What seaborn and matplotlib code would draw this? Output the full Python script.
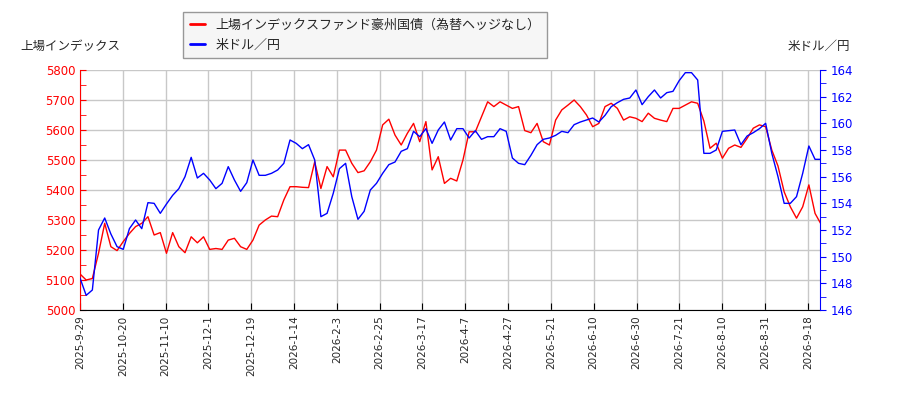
import numpy as np
import pandas as pd
import matplotlib
matplotlib.use("Agg")
import matplotlib.pyplot as plt
import seaborn as sns
from matplotlib.ticker import MultipleLocator

# === Style ===
sns.set_style("whitegrid")
plt.rcParams['font.family'] = ['Noto Sans CJK JP', 'DejaVu Sans']

# === Data (one sample about every 2 trading days) ===
fund_name = "上場インデックスファンド豪州国債（為替ヘッジなし）"
fx_name = "米ドル／円"
left_label = "上場インデックス"
right_label = "米ドル／円"

tick_labels = ["2025-9-29", "2025-10-20", "2025-11-10", "2025-12-1", "2025-12-19",
               "2026-1-14", "2026-2-3", "2026-2-25", "2026-3-17", "2026-4-7",
               "2026-4-27", "2026-5-21", "2026-6-10", "2026-6-30", "2026-7-21",
               "2026-8-10", "2026-8-31", "2026-9-18"]

fund = [5120, 5100, 5105, 5189, 5289, 5211, 5198, 5228, 5255, 5278,
        5289, 5311, 5250, 5258, 5189, 5258, 5211, 5191, 5244, 5224,
        5244, 5202, 5205, 5202, 5233, 5239, 5211, 5202, 5233, 5283,
        5300, 5313, 5311, 5367, 5411, 5411, 5409, 5408, 5494, 5405,
        5478, 5444, 5533, 5533, 5489, 5458, 5464, 5494, 5533, 5617,
        5636, 5583, 5550, 5589, 5622, 5561, 5628, 5467, 5511, 5422,
        5439, 5430, 5500, 5594, 5594, 5644, 5694, 5678, 5694, 5683,
        5672, 5678, 5598, 5591, 5622, 5561, 5550, 5633, 5667, 5683,
        5700, 5678, 5650, 5611, 5622, 5678, 5689, 5672, 5633, 5644,
        5639, 5628, 5656, 5639, 5633, 5628, 5672, 5672, 5683, 5694,
        5689, 5630, 5539, 5556, 5506, 5539, 5550, 5542, 5572, 5606,
        5617, 5611, 5533, 5480, 5394, 5344, 5306, 5344, 5417, 5322,
        5285]

usdjpy = [148.4, 147.1, 147.5, 152.0, 152.9, 151.7, 150.75, 150.55, 152.1, 152.75,
          152.1, 154.05, 154.0, 153.25, 153.95, 154.6, 155.1, 156.0, 157.45, 155.9,
          156.25, 155.75, 155.1, 155.5, 156.75, 155.75, 154.9, 155.55, 157.25, 156.1,
          156.1, 156.25, 156.5, 157.0, 158.75, 158.5, 158.1, 158.4, 157.25, 153.0,
          153.25, 154.75, 156.6, 157.0, 154.5, 152.8, 153.4, 155.0, 155.5, 156.25,
          156.9, 157.1, 157.9, 158.1, 159.4, 159.0, 159.6, 158.5, 159.5, 160.1,
          158.75, 159.6, 159.6, 158.9, 159.45, 158.8, 159.0, 159.0, 159.6, 159.4,
          157.4, 157.0, 156.9, 157.6, 158.4, 158.8, 158.9, 159.1, 159.4, 159.3,
          159.9, 160.1, 160.25, 160.4, 160.1, 160.6, 161.25, 161.55, 161.8, 161.9,
          162.5, 161.4, 162.0, 162.5, 161.9, 162.3, 162.4, 163.2, 163.8, 163.8,
          163.25, 157.75, 157.75, 158.0, 159.4, 159.45, 159.5, 158.4, 159.05, 159.3,
          159.6, 160.0, 157.75, 156.0, 154.0, 154.0, 154.5, 156.25, 158.3, 157.3,
          157.3]

TICK_EVERY = 14      # trading days between date labels
SAMPLE_STEP = 2.02   # trading days between samples
N_DAYS = 242         # span of the x axis in trading days

df = pd.DataFrame({
    "day": np.arange(len(fund)) * SAMPLE_STEP,
    "fund": fund,
    "usdjpy": usdjpy,
})

# === Figure ===
fig = plt.figure(figsize=(9, 4), dpi=100)
ax = fig.add_axes([80 / 900, 90 / 400, 740 / 900, 240 / 400])
ax2 = ax.twinx()

sns.lineplot(data=df, x="day", y="fund", color="red", lw=1, ax=ax, label=fund_name, legend=False)
sns.lineplot(data=df, x="day", y="usdjpy", color="blue", lw=1, ax=ax2, label=fx_name, legend=False)

ax.set_xlim(0, N_DAYS)
ax.set_ylim(5000, 5800)
ax2.set_ylim(146, 164)

# x axis
ax.set_xticks(np.arange(len(tick_labels)) * TICK_EVERY)
ax.set_xticklabels(tick_labels, rotation=90, fontsize=7.5, family="DejaVu Sans")
ax.tick_params(axis="x", direction="in", length=5, color="black", pad=4, bottom=True)

# left axis
ax.yaxis.set_major_locator(MultipleLocator(100))
ax.yaxis.set_minor_locator(MultipleLocator(50))
ax.tick_params(axis="y", which="both", direction="in", length=4, color="red",
               labelcolor="red", labelsize=8.5, left=True)
for t in ax.get_yticklabels():
    t.set_family("DejaVu Sans")

# right axis
ax2.yaxis.set_major_locator(MultipleLocator(2))
ax2.yaxis.set_minor_locator(MultipleLocator(1))
ax2.tick_params(axis="y", which="both", direction="out", length=4, color="blue",
                labelcolor="blue", labelsize=8.5, right=True)
for t in ax2.get_yticklabels():
    t.set_family("DejaVu Sans")

ax.set_xlabel("")
ax.set_ylabel("")
ax2.set_ylabel("")

# grid and spines
ax.grid(True, which="major", color="#c8c8c8", lw=1)
ax2.grid(False)
for a in (ax, ax2):
    a.spines["top"].set_visible(False)
ax.spines["left"].set_color("red")
ax.spines["bottom"].set_color("black")
ax.spines["right"].set_visible(False)
ax2.spines["left"].set_visible(False)
ax2.spines["bottom"].set_visible(False)
ax2.spines["right"].set_color("blue")

# axis captions
fig.text(20 / 900, 1 - 46 / 400, left_label, fontsize=9, va="center", ha="left")
fig.text(850 / 900, 1 - 46 / 400, right_label, fontsize=9, va="center", ha="right")

# legend
h1, l1 = ax.get_legend_handles_labels()
h2, l2 = ax2.get_legend_handles_labels()
leg = fig.legend(h1 + h2, l1 + l2, loc="upper left", bbox_to_anchor=(183 / 900, 1 - 12 / 400),
                 fontsize=9.4, frameon=True, fancybox=False, facecolor="#f4f4f4",
                 edgecolor="#808080", handlelength=1.2, borderaxespad=0,
                 borderpad=0.5, labelspacing=0.55, handletextpad=0.8)
leg.get_frame().set_linewidth(1)
for line in leg.get_lines():
    line.set_linewidth(2)

fig.savefig("out.png", dpi=100)
